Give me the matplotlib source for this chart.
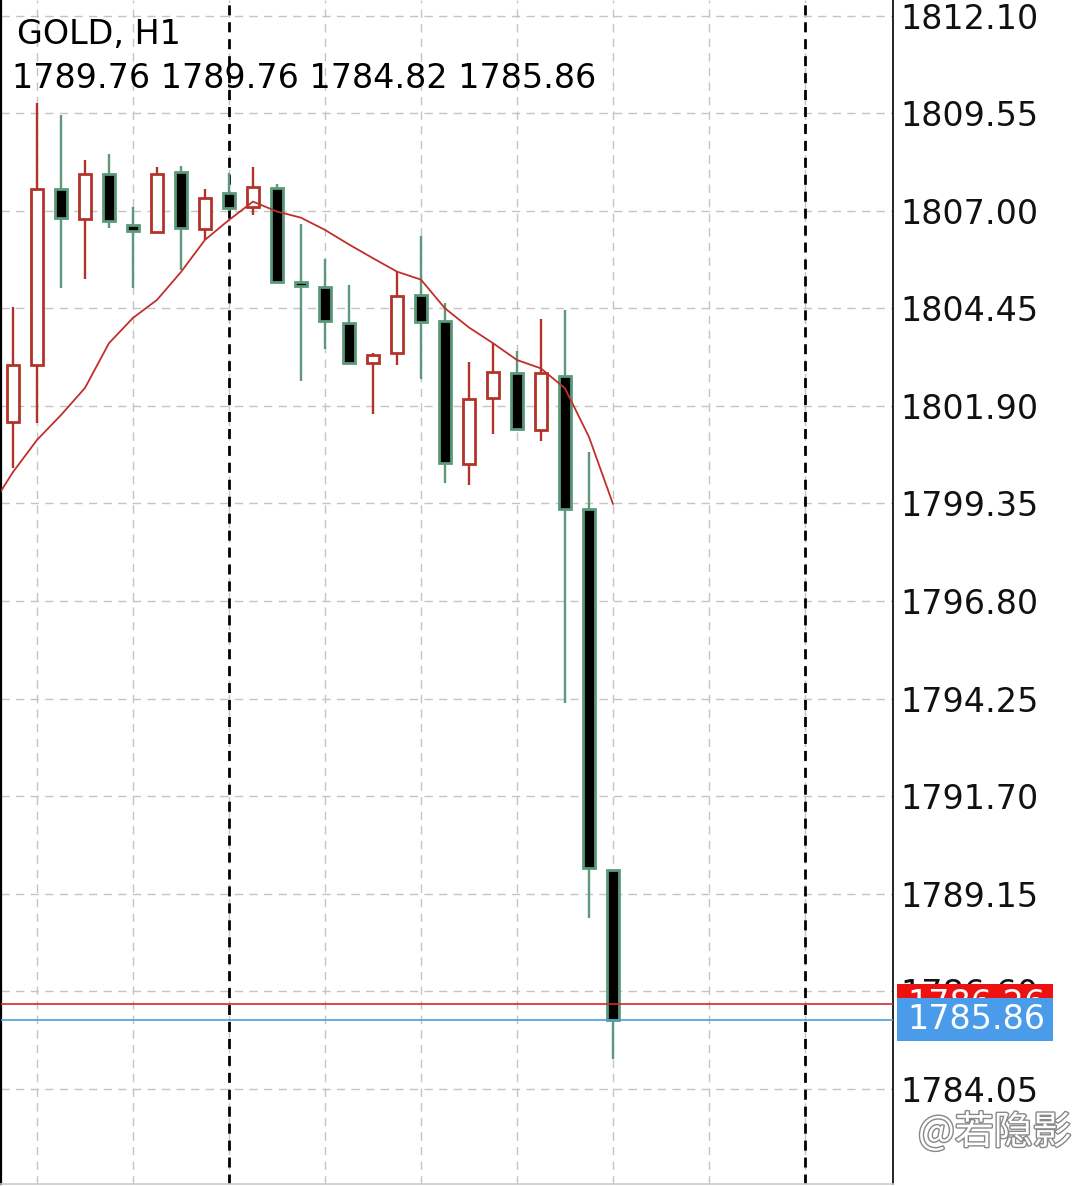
import numpy as np
import matplotlib.pyplot as plt
from matplotlib.patches import Rectangle
from matplotlib.transforms import blended_transform_factory
import matplotlib.patheffects as pe

plt.rcParams['font.family'] = ['DejaVu Sans']

# hourly gold candles
opens  = [1801.49, 1802.97, 1807.56, 1806.79, 1807.95, 1806.64, 1806.44, 1808.02, 1806.53,
          1807.46, 1807.09, 1807.59, 1805.15, 1805.02, 1804.06, 1803.03, 1803.28, 1804.80,
          1804.12, 1800.38, 1802.11, 1802.75, 1801.27, 1802.68, 1799.21, 1789.76]
highs  = [1804.49, 1809.81, 1809.50, 1808.33, 1808.49, 1807.11, 1808.14, 1808.17, 1807.57,
          1807.98, 1808.15, 1807.70, 1806.66, 1805.75, 1805.06, 1803.28, 1805.39, 1806.34,
          1804.58, 1803.04, 1803.54, 1803.34, 1804.17, 1804.41, 1800.69, 1789.76]
lows   = [1800.28, 1801.45, 1804.97, 1805.21, 1806.54, 1804.97, 1806.42, 1805.45, 1806.24,
          1807.00, 1806.89, 1805.13, 1802.55, 1803.38, 1803.00, 1801.68, 1802.97, 1802.60,
          1799.89, 1799.82, 1801.16, 1801.27, 1800.99, 1794.13, 1788.52, 1784.82]
closes = [1802.96, 1807.56, 1806.82, 1807.95, 1806.74, 1806.47, 1807.95, 1806.56, 1807.33,
          1807.08, 1807.63, 1805.15, 1805.03, 1804.13, 1803.01, 1803.24, 1804.78, 1804.10,
          1800.40, 1802.09, 1802.79, 1801.29, 1802.77, 1799.21, 1789.82, 1785.86]

# moving average, first point is the bar just left of the screen
ma_vals = [1799.18, 1800.17, 1801.01, 1801.66, 1802.37, 1803.54, 1804.20, 1804.67, 1805.40,
           1806.24, 1806.76, 1807.24, 1806.98, 1806.82, 1806.50, 1806.12, 1805.76, 1805.41,
           1805.20, 1804.45, 1803.95, 1803.54, 1803.10, 1802.88, 1802.36, 1801.09, 1799.34]

ask = 1786.26
bid = 1785.86
price_ticks = [1812.10, 1809.55, 1807.00, 1804.45, 1801.90, 1799.35,
               1796.80, 1794.25, 1791.70, 1789.15, 1786.60, 1784.05]

bull_col = '#b0342a'
bear_col = '#5a9a7a'
grid_col = '#c4c4c4'

fig = plt.figure(figsize=(10.8, 11.86), dpi=100)
ax = fig.add_axes([1/1080, 2/1186, 892/1080, 1184/1186])
ax.set_xlim(-0.5, 36.67)
ax.set_ylim(1781.56, 1812.51)

# grid
for p in price_ticks:
    ax.axhline(p, color=grid_col, lw=1.0, ls=(0, (6, 4.5)), zorder=0)
for i in range(1, 37, 4):
    ax.axvline(i, color=grid_col, lw=1.0, ls=(0, (6, 4.5)), zorder=0)
for i in [9, 33]:
    ax.axvline(i, color='black', lw=2.0, ls=(0, (3.6, 2.5)), zorder=1)

x = np.arange(len(opens))
o = np.array(opens); c = np.array(closes)
up = c >= o
cols = np.where(up, bull_col, bear_col)

ax.vlines(x, lows, highs, colors=cols, lw=1.7, zorder=2)
ax.bar(x, np.abs(c - o), bottom=np.minimum(o, c), width=0.52,
       color=np.where(up, 'white', 'black'), edgecolor=cols, linewidth=2.0, zorder=3)

ax.plot(np.arange(-1, len(opens)), ma_vals, color='#c0302a', lw=1.3, zorder=4)

ax.axhline(ask, color='#d42a2a', lw=1.2, zorder=4)
ax.axhline(bid, color='#4c9ed8', lw=1.2, zorder=4)

# axis styling
ax.set_xticks([])
ax.yaxis.tick_right()
ax.set_yticks(price_ticks)
ax.set_yticklabels([f'{p:.2f}' for p in price_ticks])
ax.tick_params(axis='y', length=0, pad=5, labelsize=24, labelcolor='#111111')
ax.spines['top'].set_visible(False)
ax.spines['left'].set_linewidth(1.6)
ax.spines['right'].set_linewidth(1.2)
ax.spines['bottom'].set_color('#cccccc')
ax.spines['bottom'].set_linewidth(1.2)

# price tags on the right
tr = blended_transform_factory(fig.transFigure, ax.transData)
ax.add_patch(Rectangle((897/1080, ask - 0.52), 156/1080, 1.04, transform=tr,
                       facecolor='#ee1111', edgecolor='none', clip_on=False, zorder=6))
ax.text(907/1080, ask, f'{ask:.2f}', transform=tr, color='white', fontsize=24,
        va='center', ha='left', clip_on=False, zorder=7)
ax.add_patch(Rectangle((897/1080, bid - 0.55), 156/1080, 1.10, transform=tr,
                       facecolor='#4a9cea', edgecolor='none', clip_on=False, zorder=8))
ax.text(907/1080, bid, f'{bid:.2f}', transform=tr, color='white', fontsize=24,
        va='center', ha='left', clip_on=False, zorder=9)

# header
fig.text(17/1080, 1 - 34/1186, 'GOLD, H1', fontsize=24, va='center', ha='left')
fig.text(12/1080, 1 - 79/1186,
         f'{opens[-1]:.2f} {highs[-1]:.2f} {lows[-1]:.2f} {closes[-1]:.2f}',
         fontsize=24, va='center', ha='left')

# watermark
fig.text(918/1080, 1 - 1133/1186, '@若隐影', fontsize=28, color='white',
         family=['Noto Sans CJK SC', 'DejaVu Sans'], va='center', ha='left',
         path_effects=[pe.withStroke(linewidth=2, foreground='#888888')])

fig.savefig('out.png', dpi=100, facecolor='white')
